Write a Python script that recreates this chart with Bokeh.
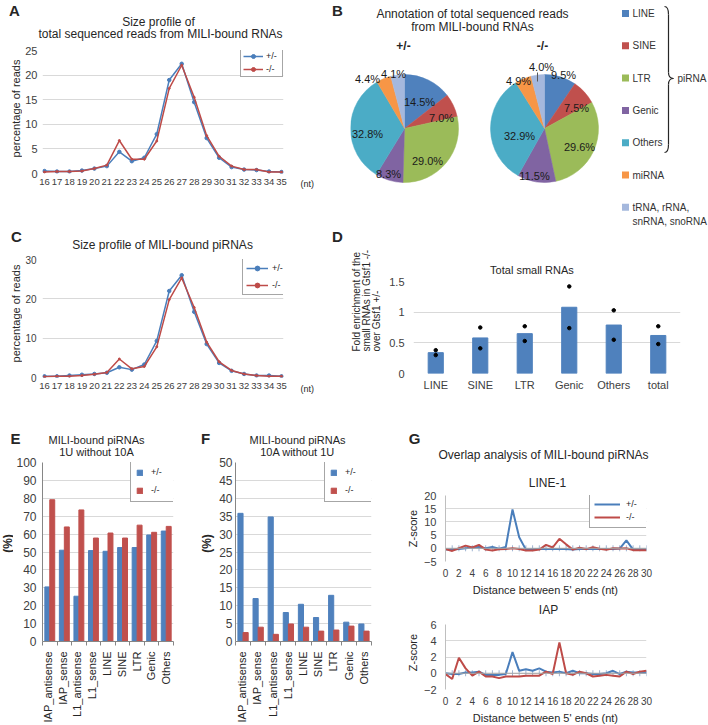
import math
from bokeh.plotting import figure
from bokeh.layouts import row, column
from bokeh.models import (Range1d, FixedTicker, Label, Legend, LegendItem,
                          ColumnDataSource, Span)
from bokeh.transform import dodge
from bokeh.embed import file_html
from bokeh.resources import INLINE

# ---------------- data ----------------
sizes = list(range(16, 36))
a_het = [0.5, 0.4, 0.4, 0.6, 1.0, 1.5, 4.4, 2.5, 3.2, 8.0, 19.0, 22.3, 14.5, 7.2, 3.2, 1.3, 0.8, 0.7, 0.4, 0.3]
a_ko = [0.3, 0.4, 0.4, 0.5, 1.0, 1.7, 6.7, 2.9, 2.9, 6.6, 17.3, 22.0, 15.5, 7.7, 3.5, 1.5, 0.8, 0.8, 0.3, 0.3]
c_het = [0.3, 0.3, 0.5, 0.7, 0.9, 1.2, 2.6, 2.0, 3.3, 9.3, 22.0, 26.0, 16.7, 8.5, 3.7, 1.7, 0.9, 0.5, 0.5, 0.3]
c_ko = [0.2, 0.3, 0.3, 0.5, 0.8, 1.3, 4.7, 2.2, 2.8, 7.8, 19.8, 25.3, 17.8, 9.0, 4.0, 1.8, 0.9, 0.5, 0.3, 0.3]
a_yticks = [0, 5, 10, 15, 20, 25]
c_yticks = [0, 10, 20, 30]

pie_cats = ["LINE", "SINE", "LTR", "Genic", "Others", "miRNA", "tRNA, rRNA,"]
pie_cat_line2 = "snRNA, snoRNA"
pie_het = [14.5, 7.0, 29.0, 8.3, 32.8, 4.4, 4.1]
pie_ko = [9.5, 7.5, 29.6, 11.5, 32.9, 4.9, 4.0]
pie_colors = ["#4F81BD", "#C0504D", "#9BBB59", "#8064A2", "#4BACC6", "#F79646", "#A5B8DD"]

d_cats = ["LINE", "SINE", "LTR", "Genic", "Others", "total"]
d_mean = [0.34, 0.58, 0.65, 1.08, 0.79, 0.62]
d_rep1 = [0.38, 0.75, 0.77, 1.42, 1.03, 0.77]
d_rep2 = [0.30, 0.41, 0.53, 0.74, 0.55, 0.48]
d_yticks = [0, 0.5, 1, 1.5]

ef_cats = ["IAP_antisense", "IAP_sense", "L1_antisense", "L1_sense", "LINE", "SINE", "LTR", "Genic", "Others"]
e_het = [30.5, 51.0, 25.3, 50.8, 50.4, 52.5, 52.5, 59.5, 61.7]
e_ko = [79.2, 64.0, 73.5, 57.8, 60.6, 57.8, 65.0, 61.0, 64.3]
f_het = [35.8, 12.0, 34.8, 8.1, 10.4, 6.7, 12.9, 5.4, 4.9]
f_ko = [2.5, 4.0, 2.0, 4.9, 4.0, 2.9, 3.2, 4.3, 2.9]
e_yticks = list(range(0, 101, 10))
f_yticks = list(range(0, 51, 5))

dist = list(range(0, 31))
g1_het = [-0.5, -0.5, -0.3, 0.0, 0.3, 0.5, 0.0, 0.5, -0.2, 0.5, 14.7, 4.2, -0.5, -0.4, -0.3, -0.3,
          -0.3, -0.3, -0.3, -0.5, -0.3, -0.3, -0.3, -0.3, -0.3, -0.3, -0.1, 3.0, -0.5, -0.5, -0.5]
g1_ko = [-0.3, -1.0, 0.0, 1.0, 0.3, 1.3, -0.5, -0.8, -0.4, -0.3, 0.0, -0.3, -0.8, -0.8, -0.5, 1.3,
         0.3, 3.6, 1.5, -0.5, 0.2, -0.3, 0.4, -0.2, -0.6, 0.0, -0.1, 0.0, -0.7, -0.7, -0.7]
g2_het = [0.0, -0.1, -0.1, 0.1, 0.1, 0.2, -0.2, -0.2, -0.2, -0.1, 2.6, 0.3, 0.5, 0.3, 0.6, 0.2,
          0.1, 0.2, 0.0, 0.3, 0.0, 0.0, -0.1, -0.1, 0.0, 0.3, -0.1, 0.2, 0.1, 0.1, 0.1]
g2_ko = [-0.1, -0.7, 1.9, 0.6, -0.3, 0.2, -0.4, -0.4, -0.6, -0.4, -0.4, -0.4, -0.3, -0.3, -0.3, 0.2,
         -0.1, 3.8, 0.0, -0.2, 0.2, 0.0, -0.4, -0.3, -0.2, -0.3, -0.4, 0.2, -0.1, 0.2, 0.3]
g1_yticks = [-5, 0, 5, 10, 15, 20]
g2_yticks = [-2, 0, 2, 4, 6]
g_xticks = list(range(0, 31, 2))

# ---------------- style ----------------
FONT = "Liberation Sans"
TXT = "#262626"
BLUE = "#4A7EBB"
RED = "#BE4B48"
BARBLUE = "#4F81BD"
BARRED = "#C0504D"
GRID = "#D9D9D9"


def base_fig(w, h, xr, yr, axes, **borders):
    p = figure(width=w, height=h, x_range=Range1d(*xr), y_range=Range1d(*yr),
               output_backend="svg", toolbar_location=None, frame_align=False, title=None,
               x_axis_location="below" if axes else None,
               y_axis_location="left" if axes else None, **borders)
    p.outline_line_color = None
    p.background_fill_color = "white"
    p.border_fill_color = "white"
    for g in p.grid:
        g.visible = False
    return p


def canvas(x0, y0, w, h):
    """Text canvas whose frame is the whole figure; data coords = page pixels (y negated)."""
    p = base_fig(w, h, (x0, x0 + w), (-(y0 + h), -y0), False, min_border=0)
    return p, (lambda sx, sy: (sx, -sy))


def mkfig(ox, oy, w, h, fl, ft, fr, fb, xr, yr):
    p = base_fig(w, h, xr, yr, True,
                 min_border_left=fl - ox, min_border_top=ft - oy,
                 min_border_right=ox + w - fr, min_border_bottom=oy + h - fb)
    p.ygrid.visible = True
    p.ygrid.grid_line_color = GRID
    for ax in p.axis:
        ax.major_tick_line_color = None
        ax.minor_tick_line_color = None
        ax.major_tick_out = 0
        ax.major_tick_in = 0
        ax.minor_tick_out = 0
        ax.minor_tick_in = 0
        ax.axis_line_color = None
        ax.major_label_text_font = FONT
        ax.major_label_text_color = "#404040"
    return p


def lab(p, cv, sx, sy, text, size=11, bold=False, align="center", baseline="middle",
        angle=0.0, color=TXT):
    x, y = cv(sx, sy)
    p.add_layout(Label(x=x, y=y, text=text, text_font=FONT, text_font_size=f"{size}px",
                       text_font_style="bold" if bold else "normal", text_align=align,
                       text_baseline=baseline, angle=angle, text_color=color))


def mklegend(items, loc, padding, spacing, gw, gh, lh, lw, standoff, fsize=9):
    return Legend(items=items, location=loc, padding=padding, spacing=spacing,
                  glyph_width=gw, glyph_height=gh, label_height=lh, label_width=lw,
                  label_standoff=standoff, margin=0,
                  label_text_font=FONT, label_text_font_size=f"{fsize}px",
                  label_text_color=TXT, border_line_color="#4D4D4D", border_line_width=1,
                  background_fill_color="white", background_fill_alpha=1.0)


UP = math.pi / 2

# ---------------- panel A ----------------
A_top, cAt = canvas(0, 0, 350, 42)
lab(A_top, cAt, 14, 10, "A", size=15, bold=True)
lab(A_top, cAt, 337, 10, "B", size=15, bold=True)
lab(A_top, cAt, 158, 21, "Size profile of", size=12)
lab(A_top, cAt, 160, 33, "total sequenced reads from MILI-bound RNAs", size=12)
A_left, cAl = canvas(0, 42, 22, 178)
lab(A_left, cAl, 15, 108, "percentage of reads", size=11, angle=UP)
A_right, cAr = canvas(292, 42, 58, 178)
lab(A_right, cAr, 300, 183, "(nt)", size=9, align="left")

pA = mkfig(22, 42, 270, 178, 40, 50, 283, 173, (15.84, 35.16), (0, 25))
srcA = ColumnDataSource(dict(x=sizes, het=a_het, ko=a_ko))
lA1 = pA.line("x", "het", source=srcA, color=BLUE, line_width=1.5)
mA1 = pA.scatter("x", "het", source=srcA, marker="circle", size=3.5, color=BLUE)
lA2 = pA.line("x", "ko", source=srcA, color=RED, line_width=1.5)
mA2 = pA.scatter("x", "ko", source=srcA, marker="circle", size=2, color=RED)
pA.xaxis.ticker = FixedTicker(ticks=sizes)
pA.yaxis.ticker = FixedTicker(ticks=a_yticks)
pA.xaxis.major_label_text_font_size = "9.5px"
pA.yaxis.major_label_text_font_size = "11px"
pA.xaxis.major_label_standoff = 5
pA.yaxis.major_label_standoff = 5
pA.add_layout(mklegend([LegendItem(label="+/-", renderers=[lA1, mA1]),
                        LegendItem(label="-/-", renderers=[lA2, mA2])],
                       (198, 96), 2, 3, 20, 10, 10, 14, 3))

# ---------------- panel C ----------------
C_top, cCt = canvas(0, 220, 350, 32)
lab(C_top, cCt, 16, 236, "C", size=15, bold=True)
lab(C_top, cCt, 337, 236, "D", size=15, bold=True)
lab(C_top, cCt, 162, 244, "Size profile of MILI-bound piRNAs", size=12)
C_left, cCl = canvas(0, 252, 22, 168)
lab(C_left, cCl, 15, 313, "percentage of reads", size=11, angle=UP)
C_right, cCr = canvas(292, 252, 58, 168)
lab(C_right, cCr, 300, 388, "(nt)", size=9, align="left")

pC = mkfig(22, 252, 270, 168, 40, 259, 283, 377, (15.84, 35.16), (0, 30))
srcC = ColumnDataSource(dict(x=sizes, het=c_het, ko=c_ko))
lC1 = pC.line("x", "het", source=srcC, color=BLUE, line_width=1.5)
mC1 = pC.scatter("x", "het", source=srcC, marker="circle", size=3.5, color=BLUE)
lC2 = pC.line("x", "ko", source=srcC, color=RED, line_width=1.5)
mC2 = pC.scatter("x", "ko", source=srcC, marker="circle", size=2, color=RED)
pC.xaxis.ticker = FixedTicker(ticks=sizes)
pC.yaxis.ticker = FixedTicker(ticks=c_yticks)
pC.xaxis.major_label_text_font_size = "9.5px"
pC.yaxis.major_label_text_font_size = "10px"
pC.xaxis.major_label_standoff = 5
pC.yaxis.major_label_standoff = 6
pC.add_layout(mklegend([LegendItem(label="+/-", renderers=[lC1, mC1]),
                        LegendItem(label="-/-", renderers=[lC2, mC2])],
                       (200, 82), 3, 5, 22, 12, 12, 13, 4))

# ---------------- panel B ----------------
pB, cB = canvas(350, 0, 358, 232)


def pie_angles(vals):
    tot = sum(vals)
    cum = 0.0
    starts, ends = [], []
    for v in vals:
        a0 = math.pi / 2 - 2 * math.pi * cum / tot
        cum += v
        a1 = math.pi / 2 - 2 * math.pi * cum / tot
        starts.append(a1)
        ends.append(a0)
    return starts, ends


for vals, (pcx, pcy) in ((pie_het, (404, 128)), (pie_ko, (544, 128))):
    s, e = pie_angles(vals)
    src = ColumnDataSource(dict(start=s, end=e, color=pie_colors, val=vals))
    px, py = cB(pcx, pcy)
    pB.wedge(x=px, y=py, radius=54, start_angle="start", end_angle="end", direction="anticlock",
             fill_color="color", line_color="color", line_width=0.5, source=src)

pie1_pos = [(419, 101), (441, 117), (427, 160), (388, 173), (367, 133), (367, 78), (393, 73)]
pie2_pos = [(563, 74), (576, 107), (579, 146), (534, 175), (519, 135), (518, 80), (541, 66)]
for vals, poss in ((pie_het, pie1_pos), (pie_ko, pie2_pos)):
    for v, (sx, sy) in zip(vals, poss):
        lab(pB, cB, sx, sy, f"{v:.1f}%", size=11, color="#1A1A1A")
lx0, ly0 = cB(537, 72)
lx1, ly1 = cB(537, 81)
pB.segment(x0=[lx0], y0=[ly0], x1=[lx1], y1=[ly1], line_color="#595959", line_width=1)

lab(pB, cB, 472, 13, "Annotation of total sequenced reads", size=12)
lab(pB, cB, 472, 26, "from MILI-bound RNAs", size=12)
lab(pB, cB, 403, 45, "+/-", size=12, bold=True)
lab(pB, cB, 542, 45, "-/-", size=12, bold=True)

leg_y = [13 + 32.3 * i for i in range(len(pie_cats))]
sq = [cB(625, y) for y in leg_y]
pB.scatter(x=[q[0] for q in sq], y=[q[1] for q in sq], marker="square", size=7,
           color=pie_colors, line_color=None)
for name, y in zip(pie_cats, leg_y):
    lab(pB, cB, 632, y, name, size=10, align="left", color="#333333")
lab(pB, cB, 632, leg_y[-1] + 14, pie_cat_line2, size=10, align="left", color="#333333")

curves = [((664, 6), (668, 14), (668, 6)), ((668, 72), (673, 78), (668, 78)),
          ((673, 78), (668, 84), (668, 78)), ((668, 144), (664, 152), (668, 152))]
for (a, b, c) in curves:
    (ax_, ay_), (bx_, by_), (cx_, cy_) = cB(*a), cB(*b), cB(*c)
    pB.quadratic(x0=[ax_], y0=[ay_], x1=[bx_], y1=[by_], cx=[cx_], cy=[cy_],
                 line_color="#262626", line_width=1.2)
for (a, b) in (((668, 14), (668, 72)), ((668, 84), (668, 144))):
    (ax_, ay_), (bx_, by_) = cB(*a), cB(*b)
    pB.segment(x0=[ax_], y0=[ay_], x1=[bx_], y1=[by_], line_color="#262626", line_width=1.2)
lab(pB, cB, 677, 78, "piRNA", size=10, align="left", color="#333333")

# ---------------- panel D ----------------
D_left, cDl = canvas(350, 232, 33, 188)
for sx, t in ((356, "Fold enrichment of the"), (366, "small RNAs in Gtsf1 -/-"), (376, "over Gtsf1 +/-")):
    lab(D_left, cDl, sx, 351, t, size=10, align="left", angle=UP)
D_top, cDt = canvas(383, 232, 325, 42)
lab(D_top, cDt, 533, 269, "Total  small RNAs", size=11)

pD = mkfig(383, 274, 325, 146, 413, 281, 680, 373, (-0.5, 5.5), (0, 1.5))
d_idx = list(range(len(d_cats)))
srcD = ColumnDataSource(dict(x=d_idx, m=d_mean, r1=d_rep1, r2=d_rep2))
pD.vbar(x="x", top="m", width=0.34, source=srcD, fill_color=BARBLUE, line_color=BARBLUE)
pD.scatter("x", "r1", source=srcD, size=3.5, color="black")
pD.scatter("x", "r2", source=srcD, size=3.5, color="black")
pD.xaxis.ticker = FixedTicker(ticks=d_idx)
pD.xaxis.major_label_overrides = {i: c for i, c in zip(d_idx, d_cats)}
pD.yaxis.ticker = FixedTicker(ticks=d_yticks)
pD.yaxis.major_label_overrides = {0: "0", 0.5: "0.5", 1: "1", 1.5: "1.5"}
pD.xaxis.major_label_text_font_size = "11px"
pD.yaxis.major_label_text_font_size = "11px"
pD.xaxis.major_label_standoff = 5
pD.yaxis.major_label_standoff = 9

# ---------------- panels E, F ----------------
def bar_block(x0, left_w, fl, fr, ymax, yticks, het, ko, letter, line2, legloc, lw, pct_x, ystand):
    top, ct = canvas(x0, 420, 200, 37)
    lab(top, ct, x0 + 15 if x0 == 0 else x0 + 5, 438, letter, size=15, bold=True)
    cx = x0 + 96 if x0 == 0 else x0 + 97
    lab(top, ct, cx, 439, "MILI-bound piRNAs", size=11)
    lab(top, ct, cx, 451, line2, size=11)
    left, cl = canvas(x0, 457, left_w, 192)
    lab(left, cl, pct_x, 543, "(%)", size=12, bold=True, angle=UP)
    p = mkfig(x0 + left_w, 457, 200 - left_w, 192, fl, 462, fr, 641, (-0.5, 8.5), (0, ymax))
    idx = list(range(len(ef_cats)))
    src = ColumnDataSource(dict(x=idx, het=het, ko=ko))
    r1 = p.vbar(x=dodge("x", -0.17, range=p.x_range), top="het", width=0.34, source=src,
                fill_color=BARBLUE, line_color=BARBLUE)
    r2 = p.vbar(x=dodge("x", 0.17, range=p.x_range), top="ko", width=0.34, source=src,
                fill_color=BARRED, line_color=BARRED)
    p.yaxis.ticker = FixedTicker(ticks=yticks)
    p.yaxis.major_label_text_font_size = "12px"
    p.yaxis.major_label_standoff = ystand
    p.yaxis.axis_line_color = "#868686"
    p.xaxis.axis_line_color = "#868686"
    # category-boundary tick marks only (no tick labels)
    p.xaxis.ticker = FixedTicker(ticks=[], minor_ticks=[i - 0.5 for i in range(len(ef_cats) + 1)])
    p.xaxis.minor_tick_out = 4
    p.xaxis.minor_tick_line_color = "#868686"
    p.xaxis.major_label_standoff = 0
    p.add_layout(mklegend([LegendItem(label="+/-", renderers=[r1]),
                           LegendItem(label="-/-", renderers=[r2])],
                          legloc, 5, 6, 7, 7, 12, lw, 8))
    bottom, cb = canvas(x0, 649, 200, 76)
    step = (fr - fl) / len(ef_cats)
    for i, c in enumerate(ef_cats):
        lab(bottom, cb, fl + (i + 0.5) * step, 651, c, size=11, align="right", angle=UP)
    return column(top, row(left, p), bottom)


blockE = bar_block(0, 13, 40, 173, 100, e_yticks, e_het, e_ko, "E", "1U without 10A",
                   (88, 139), 19, 7, 6)
blockF = bar_block(200, 16, 234, 371, 50, f_yticks, f_het, f_ko, "F", "10A without 1U",
                   (89, 139), 22, 206, 3)

# ---------------- panel G ----------------
def g_plot(oy, h, ft, fb, yr, yticks, het, ko, with_legend):
    p = mkfig(420, oy, 288, h, 443, ft, 646, fb, (0, 30), yr)
    src = ColumnDataSource(dict(x=dist, het=het, ko=ko, zero=[0] * len(dist)))
    p.add_layout(Span(location=0, dimension="width", line_color="#A6A6A6", line_width=1))
    p.scatter("x", "zero", source=src, marker="dash", angle=math.pi / 2, size=6,
              color="#9FB4D2")
    r1 = p.line("x", "het", source=src, color=BLUE, line_width=2)
    r2 = p.line("x", "ko", source=src, color=RED, line_width=2)
    p.xaxis.ticker = FixedTicker(ticks=g_xticks)
    p.yaxis.ticker = FixedTicker(ticks=yticks)
    p.xaxis.major_label_text_font_size = "10px"
    p.yaxis.major_label_text_font_size = "11px"
    p.xaxis.major_label_standoff = 7
    p.yaxis.major_label_standoff = 9
    p.yaxis.axis_line_color = "#BFBFBF"
    if with_legend:
        p.add_layout(mklegend([LegendItem(label="+/-", renderers=[r1]),
                               LegendItem(label="-/-", renderers=[r2])],
                              (144, 33), 4, 1, 26, 12, 12, 18, 6))
    return p


G1_top, cG1t = canvas(400, 420, 308, 68)
lab(G1_top, cG1t, 414, 438, "G", size=15, bold=True)
lab(G1_top, cG1t, 543, 454, "Overlap analysis of MILI-bound piRNAs", size=12)
lab(G1_top, cG1t, 547, 482, "LINE-1", size=12)
G1_left, cG1l = canvas(400, 488, 20, 93)
lab(G1_left, cG1l, 412, 528, "Z-score", size=11, angle=UP)
pG1 = g_plot(488, 93, 495, 561, (-5, 20), g1_yticks, g1_het, g1_ko, True)
G1_bot, cG1b = canvas(400, 581, 308, 19)
lab(G1_bot, cG1b, 548, 589, "Distance between  5' ends  (nt)", size=11)

G2_top, cG2t = canvas(400, 600, 308, 17)
lab(G2_top, cG2t, 548, 609, "IAP", size=12)
G2_left, cG2l = canvas(400, 617, 20, 92)
lab(G2_left, cG2l, 412, 652, "Z-score", size=11, angle=UP)
pG2 = g_plot(617, 92, 624, 689, (-2, 6), g2_yticks, g2_het, g2_ko, False)
G2_bot, cG2b = canvas(400, 709, 308, 16)
lab(G2_bot, cG2b, 548, 717, "Distance between  5' ends  (nt)", size=11)

blockG = column(G1_top, row(G1_left, pG1), G1_bot, G2_top, row(G2_left, pG2), G2_bot)

# ---------------- layout ----------------
blockA = column(A_top, row(A_left, pA, A_right))
blockC = column(C_top, row(C_left, pC, C_right))
blockD = row(D_left, column(D_top, pD))
top = row(column(blockA, blockC), column(pB, blockD))
bottom = row(blockE, blockF, blockG)
layout = column(top, bottom)

open("out.html", "w").write(file_html(layout, INLINE))
